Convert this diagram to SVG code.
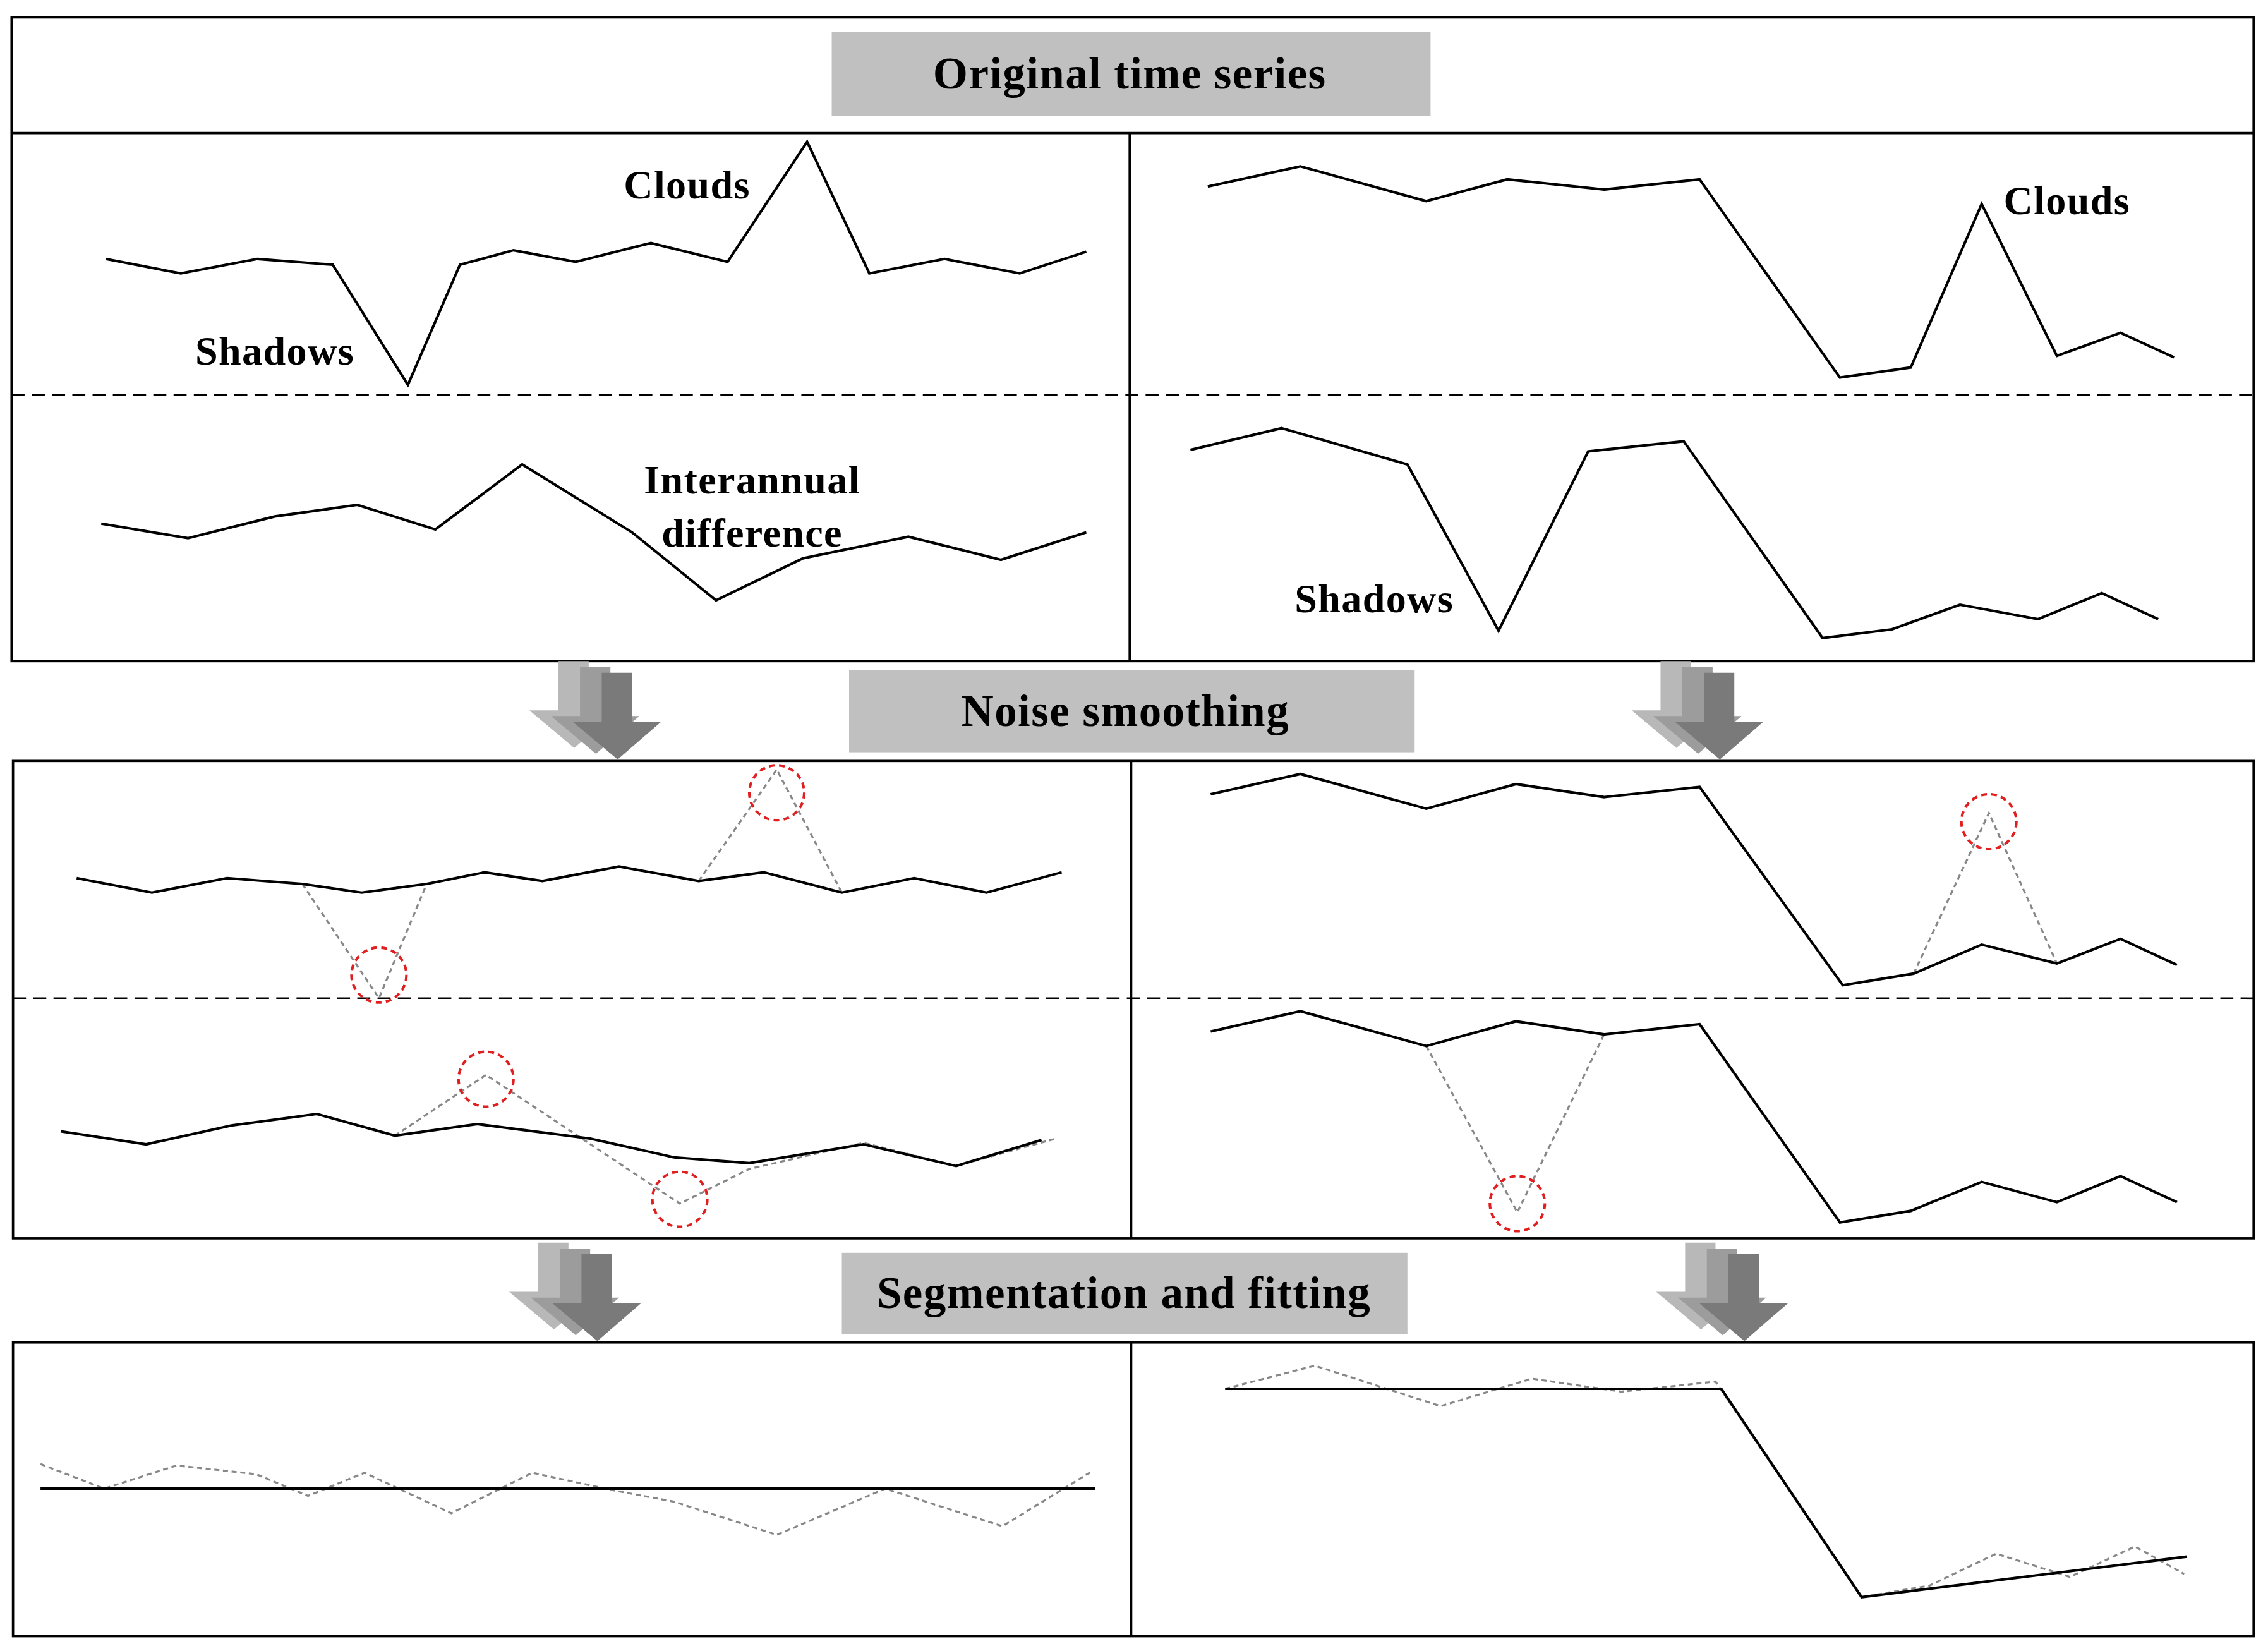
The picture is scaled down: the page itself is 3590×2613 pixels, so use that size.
<svg xmlns="http://www.w3.org/2000/svg" width="3590" height="2613" viewBox="0 0 3590 2613">
<defs>
<style>
.b{fill:none;stroke:#000;stroke-width:1.6}
.s{fill:none;stroke:#000;stroke-width:1.8;stroke-linejoin:miter}
.d{fill:none;stroke:#888;stroke-width:1.4;stroke-dasharray:3.5,2.5}
.h{fill:none;stroke:#000;stroke-width:1.1;stroke-dasharray:9,5}
.c{fill:none;stroke:#e02020;stroke-width:1.8;stroke-dasharray:4,3}
.tb{fill:#c0c0c0}
.t{font-family:"Liberation Serif",serif;font-weight:bold;font-size:31px;letter-spacing:0.6px;text-anchor:middle;fill:#000}
.l{font-family:"Liberation Serif",serif;font-weight:bold;font-size:28px;letter-spacing:0.6px;text-anchor:middle;fill:#000}
</style>
<g id="arr">
<path d="M-41,-68H-20V-34H0L-30,-8L-61,-34H-41Z" fill="#b8b8b8"/>
<path d="M-26,-64H-5V-30H15L-15,-4L-46,-30H-26Z" fill="#9c9c9c"/>
<path d="M-11,-60H10V-26H30L0,0L-31,-26H-11Z" fill="#7a7a7a"/>
</g>
</defs>
<rect width="3590" height="2613" fill="#fff"/>
<g transform="scale(2.2896)">
<g id="frames">
<rect class="b" x="8" y="12" width="1550" height="445"/>
<line class="b" x1="8" y1="92" x2="1558" y2="92"/>
<line class="b" x1="781" y1="92" x2="781" y2="457"/>
<line class="h" x1="8" y1="273" x2="1558" y2="273"/>
<rect class="b" x="9" y="526" width="1549" height="330"/>
<line class="b" x1="782" y1="526" x2="782" y2="856"/>
<line class="h" x1="9" y1="690" x2="1558" y2="690"/>
<rect class="b" x="9" y="928" width="1549" height="203"/>
<line class="b" x1="782" y1="928" x2="782" y2="1131"/>
</g>
<g id="title1"><rect class="tb" x="575" y="22" width="414" height="58"/><text class="t" x="781" y="61">Original time series</text></g>
<g id="title2"><rect class="tb" x="587" y="463" width="391" height="57"/><text class="t" x="778" y="502">Noise smoothing</text></g>
<g id="title3"><rect class="tb" x="582" y="866" width="391" height="56"/><text class="t" x="777" y="904">Segmentation and fitting</text></g>
<g id="arrows">
<use href="#arr" x="427" y="525"/>
<use href="#arr" x="1189" y="525"/>
<use href="#arr" x="413" y="927"/>
<use href="#arr" x="1206" y="927"/>
</g>
<g id="connectors">
<polyline class="s" points="73,179 125,189 178,179 230,183 282,266 318,183 355,173 398,181 450,168 503,181 558,98 601,189 653,179 705,189 751,174"/>
<polyline class="s" points="70,362 130,372 190,357 247,349 301,366 361,321 437,368 495,415 555,386 628,371 692,387 751,368"/>
<polyline class="s" points="835,129 899,115 986,139 1042,124 1109,131 1175,124 1272,261 1321,254 1370,141 1422,246 1466,230 1503,247"/>
<polyline class="s" points="823,311 886,296 973,321 1036,436 1098,312 1164,305 1260,441 1308,435 1355,418 1409,428 1453,410 1492,428"/>
<polyline class="d" points="209,611 262,690 295,611"/>
<polyline class="d" points="483,609 537,532 582,617"/>
<polyline class="s" points="53,607 105,617 157,607 209,611 250,617 295,611 335,603 375,609 428,599 483,609 528,603 582,617 632,607 682,617 734,603"/>
<polyline class="d" points="273,785 336,743 470,832 518,808 597,790 661,806 730,787"/>
<polyline class="s" points="42,782 101,791 160,778 219,770 273,785 330,777 408,787 466,800 518,804 597,791 661,806 720,788"/>
<polyline class="d" points="1323,673 1375,562 1422,666"/>
<polyline class="s" points="837,549 899,535 986,559 1048,542 1109,551 1175,544 1274,681 1323,673 1370,653 1422,666 1466,649 1505,667"/>
<polyline class="d" points="986,723 1049,838 1109,715"/>
<polyline class="s" points="837,713 899,699 986,723 1048,706 1109,715 1175,708 1272,845 1321,837 1370,817 1422,831 1466,813 1505,831"/>
<circle class="c" cx="262" cy="674" r="19"/>
<circle class="c" cx="537" cy="548" r="19"/>
<circle class="c" cx="336" cy="746" r="19"/>
<circle class="c" cx="470" cy="829" r="19"/>
<circle class="c" cx="1375" cy="568" r="19"/>
<circle class="c" cx="1049" cy="832" r="19"/>
<polyline class="d" points="28,1012 72,1029 122,1013 177,1019 213,1034 252,1018 312,1046 368,1018 423,1030 466,1038 537,1061 612,1029 693,1055 755,1017"/>
<line class="s" x1="28" y1="1029" x2="757" y2="1029"/>
<polyline class="d" points="847,960 909,944 996,972 1059,953 1121,962 1186,955 1287,1104 1334,1096 1380,1074 1431,1090 1476,1069 1510,1088"/>
<polyline class="s" points="847,960 1190,960 1287,1104 1512,1076"/>
</g>
<g id="labels">
<text class="l" x="475" y="137">Clouds</text>
<text class="l" x="190" y="252">Shadows</text>
<text class="l" x="520" y="341">Interannual</text>
<text class="l" x="520" y="378">difference</text>
<text class="l" x="1429" y="148">Clouds</text>
<text class="l" x="950" y="423">Shadows</text>
</g>
</g>
</svg>
